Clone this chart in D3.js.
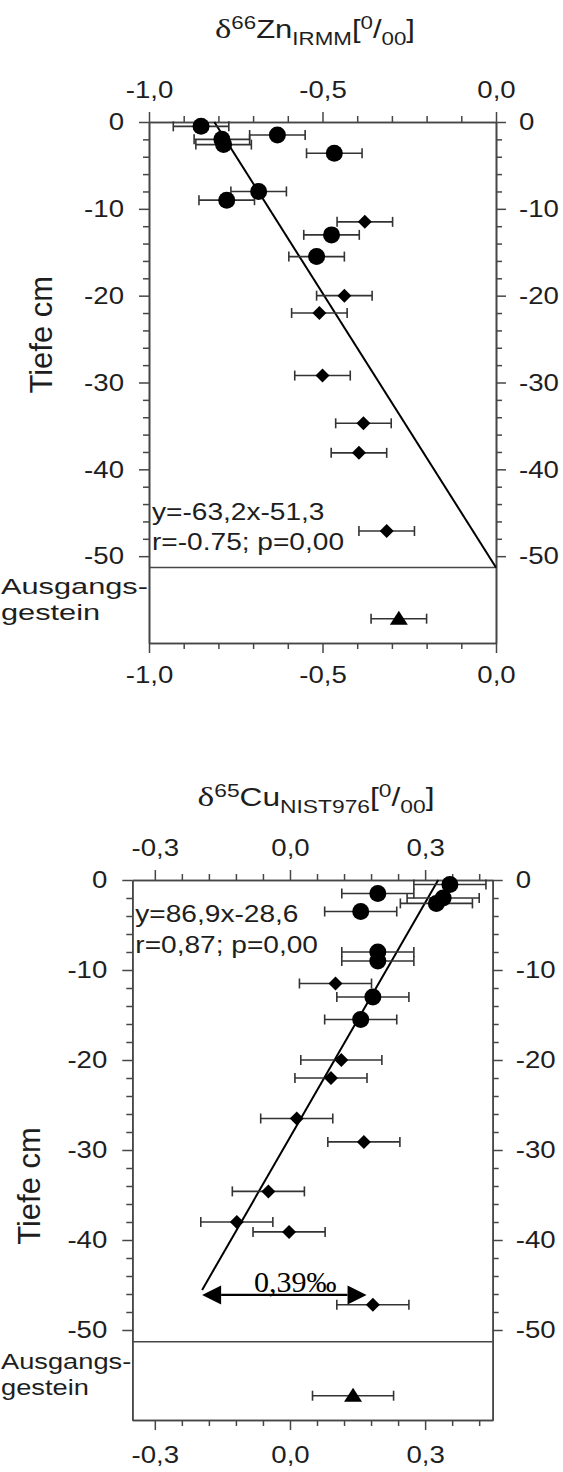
<!DOCTYPE html>
<html><head><meta charset="utf-8">
<script src="https://cdn.jsdelivr.net/npm/d3@7"></script>
<style>
body{margin:0;background:#fff}
svg text{font-family:"Liberation Sans",Arial,sans-serif;fill:#1e1e1e}
</style>
</head><body>
<svg id="chart" width="563" height="1472"></svg>
<script>
// ---------------- DATA ----------------
const depthDomain = [-60, 0];
const depthTicksMajor = [0, -10, -20, -30, -40, -50];
const depthTicksMinor = [-2,-4,-6,-8,-12,-14,-16,-18,-22,-24,-26,-28,-32,-34,-36,-38,-42,-44,-46,-48];
const rockBoundary = -51.3;
const depthLabel = "Tiefe cm";
const rockLabel = ["Ausgangs-", "gestein"];

// Zn panel
const znDomain = [-1.0, 0.0];
const znTicksMajor = [-1.0, -0.5, 0.0];
const znTicksMinor = [-0.9,-0.8,-0.7,-0.6,-0.4,-0.3,-0.2,-0.1];
const znCircleX     = [-0.85, -0.79, -0.785, -0.63, -0.466, -0.684, -0.776, -0.474, -0.517];
const znCircleDepth = [-0.5, -2.0, -2.6, -1.5, -3.6, -8.0, -9.0, -13.0, -15.5];
const znCircleErr   = [0.08, 0.08, 0.08, 0.08, 0.08, 0.08, 0.08, 0.08, 0.08];
const znDiamondX     = [-0.378, -0.437, -0.509, -0.50, -0.382, -0.395, -0.315];
const znDiamondDepth = [-11.5, -20.0, -22.0, -29.2, -34.7, -38.1, -47.1];
const znDiamondErr   = [0.08, 0.08, 0.08, 0.08, 0.08, 0.08, 0.08];
const znRockX = [-0.28];
const znRockDepth = [-57.2];
const znRockErr = [0.08];
const znFitCoef = [-63.2, -51.3];       // slope, intercept (depth = a*x + b)
const znFitX = [-0.8117, 0.0];
const znEquation = ["y=-63,2x-51,3", "r=-0.75; p=0,00"];
const znTitle = [["δ","serif"],["66","sup"],["Zn",""],["IRMM","sub"],["[",""],["0","sup"],["/",""],["00","sub"],["]",""]];

// Cu panel
const cuDomain = [-0.35, 0.45];
const cuTicksMajor = [-0.3, 0.0, 0.3];
const cuTicksMinor = [-0.24,-0.18,-0.12,-0.06,0.06,0.12,0.18,0.24,0.36,0.42];
const cuCircleX     = [0.195, 0.157, 0.355, 0.34, 0.325, 0.195, 0.195, 0.184, 0.157];
const cuCircleDepth = [-1.5, -3.5, -0.5, -2.0, -2.6, -8.0, -9.0, -13.0, -15.5];
const cuCircleErr   = [0.08, 0.08, 0.08, 0.08, 0.08, 0.08, 0.08, 0.08, 0.08];
const cuDiamondX     = [0.101, 0.114, 0.091, 0.015, 0.164, -0.048, -0.118, -0.002, 0.184];
const cuDiamondDepth = [-11.5, -20.0, -22.0, -26.5, -29.1, -34.6, -38.0, -39.1, -47.2];
const cuDiamondErr   = [0.08, 0.09, 0.08, 0.08, 0.08, 0.08, 0.08, 0.08, 0.08];
const cuRockX = [0.14];
const cuRockDepth = [-57.3];
const cuRockErr = [0.09];
const cuFitCoef = [86.9, -28.6];
const cuFitX = [-0.195, 0.3291];
const cuEquation = ["y=86,9x-28,6", "r=0,87; p=0,00"];
const cuArrowX = [-0.195, 0.17];
const cuArrowDepth = -46.1;
const cuArrowLabel = "0,39‰";
const cuTitle = [["δ","serif"],["65","sup"],["Cu",""],["NIST976","sub"],["[",""],["0","sup"],["/",""],["00","sub"],["]",""]];

// ---------------- DRAWING ----------------
const svg = d3.select("#chart");
const STRETCH = 1.15;
const frameColor = "#464646";
const loc = d3.formatLocale({decimal: ",", thousands: ".", grouping: [3], currency: ["", ""], minus: "-"});
const fmtX = loc.format(".1f");
const fmtY = loc.format("d");

function stretch(sel, k) {
  sel.each(function() {
    const len = this.getComputedTextLength();
    if (len > 0) d3.select(this).attr("textLength", len * k).attr("lengthAdjust", "spacingAndGlyphs");
  });
}
function fitWidth(sel, w) {
  sel.attr("textLength", w).attr("lengthAdjust", "spacingAndGlyphs");
}

function styleAxis(g) {
  g.attr("font-family", null).attr("font-size", null);
  g.select(".domain").attr("stroke", frameColor).attr("stroke-width", 1.6);
  g.selectAll(".tick line").attr("stroke", frameColor).attr("stroke-width", 1.5);
  g.selectAll(".tick text").attr("font-size", 24).attr("fill", "#1e1e1e");
}

function drawPanel(p) {
  const g = svg.append("g");
  const x = d3.scaleLinear().domain(p.domain).range([p.left, p.right]);
  const y = d3.scaleLinear().domain(depthDomain).range([p.bottom, p.top]);

  const sides = [
    [d3.axisTop, `translate(0,${p.top})`, x, p.ticksMajor, p.ticksMinor, fmtX, 14],
    [d3.axisBottom, `translate(0,${p.bottom})`, x, p.ticksMajor, p.ticksMinor, fmtX, p.bottomPad],
    [d3.axisLeft, `translate(${p.left},0)`, y, depthTicksMajor, depthTicksMinor, fmtY, 15],
    [d3.axisRight, `translate(${p.right},0)`, y, depthTicksMajor, depthTicksMinor, fmtY, 13]
  ];
  sides.forEach(([ax, tr, sc, maj, min, f, pad]) => {
    g.append("g").attr("transform", tr)
      .call(ax(sc).tickValues(min).tickFormat("").tickSize(6).tickSizeOuter(0))
      .call(styleAxis);
    g.append("g").attr("transform", tr)
      .call(ax(sc).tickValues(maj).tickFormat(f).tickSize(10).tickPadding(pad).tickSizeOuter(0))
      .call(styleAxis);
  });

  // bedrock boundary
  g.append("line")
    .attr("x1", x(p.domain[0])).attr("x2", x(p.domain[1]))
    .attr("y1", y(rockBoundary)).attr("y2", y(rockBoundary))
    .attr("stroke", frameColor).attr("stroke-width", 1.6);

  // regression line
  g.append("line")
    .attr("x1", x(p.fitX[0])).attr("y1", y(p.fitCoef[0] * p.fitX[0] + p.fitCoef[1]))
    .attr("x2", x(p.fitX[1])).attr("y2", y(p.fitCoef[0] * p.fitX[1] + p.fitCoef[1]))
    .attr("stroke", "#000").attr("stroke-width", 2);

  // points
  const sets = [
    [p.circleX, p.circleDepth, p.circleErr, "circle"],
    [p.diamondX, p.diamondDepth, p.diamondErr, "diamond"],
    [p.rockX, p.rockDepth, p.rockErr, "triangle"]
  ];
  const data = [];
  sets.forEach(([xs, ds, es, shape]) => xs.forEach((v, i) => data.push({v, d: ds[i], e: es[i], shape})));

  const eb = g.append("g").attr("stroke", "#333").attr("stroke-width", 1.6).attr("fill", "none");
  data.forEach(o => {
    const cy = y(o.d), xa = x(o.v - o.e), xb = x(o.v + o.e);
    eb.append("line").attr("x1", xa).attr("x2", xb).attr("y1", cy).attr("y2", cy);
    eb.append("line").attr("x1", xa).attr("x2", xa).attr("y1", cy - 5).attr("y2", cy + 5);
    eb.append("line").attr("x1", xb).attr("x2", xb).attr("y1", cy - 5).attr("y2", cy + 5);
  });
  data.forEach(o => {
    const cx = x(o.v), cy = y(o.d);
    if (o.shape === "circle") {
      g.append("circle").attr("cx", cx).attr("cy", cy).attr("r", 8.5).attr("fill", "#000");
    } else if (o.shape === "diamond") {
      const h = 7;
      g.append("path").attr("d", `M${cx},${cy - h}L${cx + h},${cy}L${cx},${cy + h}L${cx - h},${cy}Z`).attr("fill", "#000");
    } else {
      g.append("path").attr("d", `M${cx},${cy - 8}L${cx + 9},${cy + 6}L${cx - 9},${cy + 6}Z`).attr("fill", "#000");
    }
  });

  // equation text
  const eq = g.append("g");
  p.equation.forEach((s, i) => {
    eq.append("text").attr("x", p.left + 3).attr("y", p.eqY[i]).attr("font-size", 24).text(s);
  });
  stretch(eq.selectAll("text"), 1.17);

  // title
  const t = g.append("text").attr("x", p.titleX).attr("y", p.titleY)
    .attr("text-anchor", "middle").attr("font-size", 25);
  let cur = 0;
  p.title.forEach(([s, kind]) => {
    const off = kind === "sup" ? -9 : kind === "sub" ? 7 : 0;
    const ts = t.append("tspan").attr("dy", off - cur).text(s);
    cur = off;
    if (kind === "sup" || kind === "sub") ts.attr("font-size", 18);
    if (kind === "serif") ts.attr("font-family", "'Liberation Serif','Times New Roman',serif").attr("font-size", 28);
  });
  fitWidth(t, p.titleW);

  // depth label
  g.append("text")
    .attr("transform", `translate(${p.depthLabelX},${y(p.depthLabelAt)}) rotate(-90)`)
    .attr("text-anchor", "middle").attr("font-size", 31).text(depthLabel);

  // rock label
  const boundaryY = y(rockBoundary);
  const r1 = g.append("text").attr("x", 1).attr("y", boundaryY + 27).attr("font-size", 22).text(rockLabel[0]);
  const r2 = g.append("text").attr("x", 1).attr("y", boundaryY + 53).attr("font-size", 22).text(rockLabel[1]);
  const k = (p.left - 2) / r1.node().getComputedTextLength();
  stretch(r1, k); stretch(r2, k);

  stretch(g.selectAll(".tick text"), STRETCH);
  return {g, x, y};
}

drawPanel({
  domain: znDomain, ticksMajor: znTicksMajor, ticksMinor: znTicksMinor,
  left: 149, right: 496, top: 122, bottom: 643, bottomPad: 13,
  circleX: znCircleX, circleDepth: znCircleDepth, circleErr: znCircleErr,
  diamondX: znDiamondX, diamondDepth: znDiamondDepth, diamondErr: znDiamondErr,
  rockX: znRockX, rockDepth: znRockDepth, rockErr: znRockErr,
  fitCoef: znFitCoef, fitX: znFitX, equation: znEquation, eqY: [520, 550],
  title: znTitle, titleX: 315, titleY: 38, titleW: 200,
  depthLabelX: 52, depthLabelAt: -24.5
});

const cu = drawPanel({
  domain: cuDomain, ticksMajor: cuTicksMajor, ticksMinor: cuTicksMinor,
  left: 132.3, right: 492.7, top: 880, bottom: 1420, bottomPad: 16,
  circleX: cuCircleX, circleDepth: cuCircleDepth, circleErr: cuCircleErr,
  diamondX: cuDiamondX, diamondDepth: cuDiamondDepth, diamondErr: cuDiamondErr,
  rockX: cuRockX, rockDepth: cuRockDepth, rockErr: cuRockErr,
  fitCoef: cuFitCoef, fitX: cuFitX, equation: cuEquation, eqY: [922, 953],
  title: cuTitle, titleX: 316, titleY: 806, titleW: 237,
  depthLabelX: 40, depthLabelAt: -34
});

// arrow annotation on Cu panel
(function () {
  const {g, x, y} = cu;
  const ay = y(cuArrowDepth), xa = x(cuArrowX[0]), xb = x(cuArrowX[1]);
  const hl = 19, hh = 9.5;
  g.append("line").attr("x1", xa + hl).attr("x2", xb - hl).attr("y1", ay).attr("y2", ay)
    .attr("stroke", "#000").attr("stroke-width", 2.2);
  g.append("path").attr("d", `M${xa},${ay}L${xa + hl},${ay - hh}L${xa + hl},${ay + hh}Z`).attr("fill", "#000");
  g.append("path").attr("d", `M${xb},${ay}L${xb - hl},${ay - hh}L${xb - hl},${ay + hh}Z`).attr("fill", "#000");
  g.append("text").attr("x", (xa + xb) / 2 + 11).attr("y", ay - 3).attr("text-anchor", "middle")
    .attr("font-size", 30)
    .style("font-family", "'Liberation Serif','Times New Roman',serif")
    .style("fill", "#000").text(cuArrowLabel);
})();
</script>
</body></html>
